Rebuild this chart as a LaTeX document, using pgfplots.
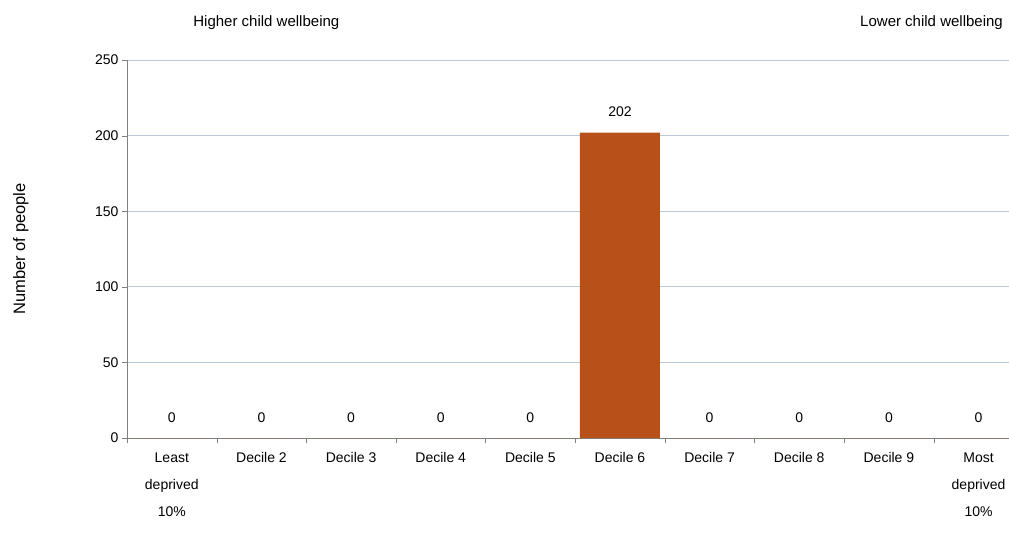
\documentclass[border=0pt]{standalone}
\usepackage{pgfplots}
\pgfplotsset{compat=1.18}
\usepackage{fontspec}
\setmainfont{Liberation Sans}
\definecolor{barc}{HTML}{B8501A}
\definecolor{gridc}{HTML}{B9C9DA}
\begin{document}
\begin{tikzpicture}[x=1pt,y=1pt]
\useasboundingbox (-127,-104) rectangle (882,438);
\begin{axis}[at={(0,0)},anchor=south west,
  scale only axis, width=882pt, height=378pt,
  xmin=-0.5, xmax=9.34, ymin=0, ymax=250,
  axis lines*=left, axis line style={draw=gray},
  ytick={0,50,...,250}, ymajorgrids, grid style={gridc, line width=0.8pt},
  ytick style={draw=gray}, major tick length=5pt,
  xtick={0,...,9}, x tick style={draw=none},
  minor xtick={-0.5,0.5,...,8.5}, minor x tick style={draw=gray}, minor tick length=5pt,
  tick pos=left, tick align=outside,
  xticklabels={{Least\\deprived\\10\%},Decile 2,Decile 3,Decile 4,Decile 5,Decile 6,Decile 7,Decile 8,Decile 9,{Most\\deprived\\10\%}},
  xticklabel style={align=center, font=\fontsize{14}{27}\selectfont, yshift=-6pt},
  yticklabel style={font=\fontsize{14}{16}\selectfont},
  /pgf/number format/assume math mode=true,
  ylabel={Number of people}, ylabel style={font=\fontsize{16.5}{19}\selectfont, at={(-95pt,0.5)}, anchor=south},
  ybar, bar width=80pt, bar shift=0pt,
  nodes near coords, nodes near coords style={font=\fontsize{14}{16}\selectfont, black, yshift=12pt},
  clip=false]
\addplot[fill=barc, draw=none] coordinates {(0,0)(1,0)(2,0)(3,0)(4,0)(5,202)(6,0)(7,0)(8,0)(9,0)};
\node[font=\fontsize{15}{17}\selectfont] at (rel axis cs:0.158,1.098) {Higher child wellbeing};
\node[font=\fontsize{15}{17}\selectfont, anchor=east] at (rel axis cs:0.997,1.098) {Lower child wellbeing};
\end{axis}
\end{tikzpicture}
\end{document}
